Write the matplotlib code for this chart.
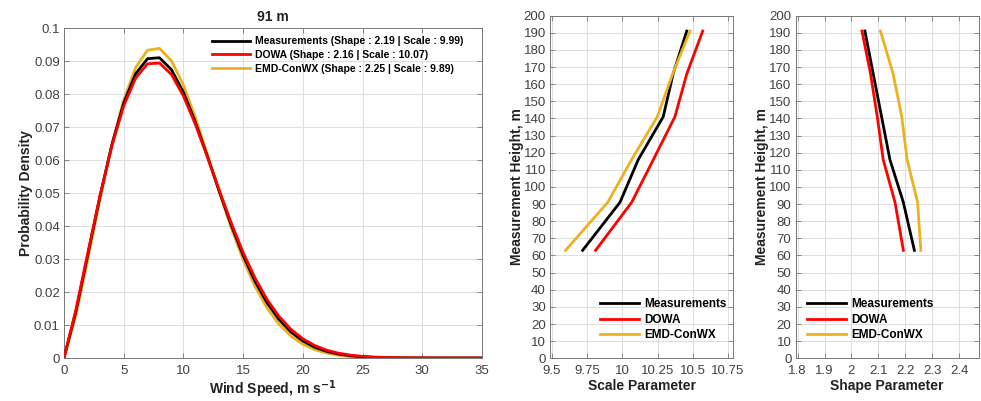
import matplotlib
matplotlib.use("Agg")
import matplotlib.pyplot as plt
import numpy as np

plt.rcParams['font.family'] = ['Liberation Sans', 'DejaVu Sans']

# ---------------- data ----------------
wind_speed = list(range(0, 36))
pdf_meas = [0, 0.01408, 0.03139, 0.04875, 0.06447, 0.07724, 0.08615, 0.09073, 0.09100, 0.08738,
            0.08057, 0.07150, 0.06121, 0.05057, 0.04036, 0.03113, 0.02322, 0.01676, 0.01170, 0.00790,
            0.00517, 0.00327, 0.00200, 0.00119, 0.00068, 0.00038, 0.00020, 0.000105, 0.000052, 0.000025,
            0.000012, 0.000005, 0.000002, 0.000001, 0, 0]
pdf_dowa = [0, 0.01462, 0.03191, 0.04893, 0.06415, 0.07638, 0.08486, 0.08917, 0.08940, 0.08592,
            0.07945, 0.07085, 0.06103, 0.05084, 0.04098, 0.03199, 0.02421, 0.01776, 0.01263, 0.00871,
            0.00582, 0.00378, 0.00238, 0.00145, 0.00086, 0.00049, 0.000275, 0.000149, 0.000078, 0.000040,
            0.000020, 0.000010, 0.000005, 0.000002, 0.000001, 0]
pdf_emd = [0, 0.01290, 0.03002, 0.04784, 0.06441, 0.07818, 0.08803, 0.09329, 0.09383, 0.09006,
           0.08275, 0.07294, 0.06179, 0.05034, 0.03948, 0.02981, 0.02168, 0.01520, 0.01026, 0.00667,
           0.00418, 0.00252, 0.00147, 0.00082, 0.00044, 0.00023, 0.000115, 0.000055, 0.000025, 0.000011,
           0.000005, 0.000002, 0.000001, 0, 0, 0]

heights = [63, 91, 116, 141, 166, 191]
scale_meas = [9.718, 9.983, 10.113, 10.29, 10.36, 10.457]
scale_dowa = [9.81, 10.066, 10.22, 10.373, 10.457, 10.57]
scale_emd = [9.597, 9.896, 10.066, 10.248, 10.357, 10.48]
shape_meas = [2.234, 2.193, 2.143, 2.112, 2.081, 2.050]
shape_dowa = [2.193, 2.162, 2.118, 2.096, 2.071, 2.039]
shape_emd = [2.258, 2.246, 2.207, 2.187, 2.155, 2.108]

labels_pdf = ['Measurements (Shape : 2.19 | Scale : 9.99)',
              'DOWA (Shape : 2.16 | Scale : 10.07)',
              'EMD-ConWX (Shape : 2.25 | Scale : 9.89)']
labels = ['Measurements', 'DOWA', 'EMD-ConWX']
colors = ['#000000', '#ff0000', '#EDB120']

# ---------------- figure ----------------
fig = plt.figure(figsize=(9.81, 4.01), dpi=100)
ax1 = fig.add_axes([0.0652, 0.1072, 0.4261, 0.8228])
ax2 = fig.add_axes([0.5607, 0.1065, 0.1865, 0.8545])
ax3 = fig.add_axes([0.8111, 0.1065, 0.1865, 0.8545])

tick_col = '#404040'
edge_col = '#777777'
lab_col = '#222222'


def style(ax):
    ax.grid(True, color='#dddddd', linewidth=0.7)
    ax.set_axisbelow(True)
    ax.tick_params(direction='in', top=True, right=True, length=3.5, width=0.6,
                   colors=edge_col, labelcolor=tick_col, labelsize=9.5)
    ax.tick_params(axis='x', pad=5)
    ax.tick_params(axis='y', pad=3)
    for s in ax.spines.values():
        s.set_color(edge_col)
        s.set_linewidth(0.7)


lw = 2.0
ax1.plot(wind_speed, pdf_emd, color=colors[2], lw=lw, label=labels_pdf[2], zorder=2)
ax1.plot(wind_speed, pdf_meas, color=colors[0], lw=lw, label=labels_pdf[0], zorder=3)
ax1.plot(wind_speed, pdf_dowa, color=colors[1], lw=lw, label=labels_pdf[1], zorder=4)
ax1.set_xlim(0, 35)
ax1.set_ylim(0, 0.1)
ax1.set_xticks(range(0, 36, 5))
yt = np.round(np.arange(0, 0.1001, 0.01), 2)
ax1.set_yticks(yt)
ax1.set_yticklabels(['0'] + ['%g' % v for v in yt[1:]])
style(ax1)
ax1.set_title('91 m', fontsize=10, fontweight='bold', color=lab_col, pad=5)
ax1.set_xlabel('Wind Speed, m s$^{\\mathbf{-1}}$', fontsize=10, fontweight='bold', color=lab_col, labelpad=1)
ax1.set_ylabel('Probability Density', fontsize=10, fontweight='bold', color=lab_col, labelpad=1)
h, l = ax1.get_legend_handles_labels()
order = [1, 2, 0]
ax1.legend([h[i] for i in order], [l[i] for i in order], loc='upper left',
           bbox_to_anchor=(0.355, 0.975), frameon=False, prop={'size': 7.5, 'weight': 'bold'},
           handlelength=3.6, handletextpad=0.5, labelspacing=0.35, borderpad=0, borderaxespad=0)

for ax, data, xl, xt, xtl in [
        (ax2, [scale_meas, scale_dowa, scale_emd], (9.487, 10.785),
         [9.5, 9.75, 10, 10.25, 10.5, 10.75], ['9.5', '9.75', '10', '10.25', '10.5', '10.75']),
        (ax3, [shape_meas, shape_dowa, shape_emd], (1.7926, 2.473),
         [1.8, 1.9, 2.0, 2.1, 2.2, 2.3, 2.4], ['1.8', '1.9', '2', '2.1', '2.2', '2.3', '2.4'])]:
    for d, c, lab in zip(data, colors, labels):
        ax.plot(d, heights, color=c, lw=lw, label=lab)
    ax.set_xlim(*xl)
    ax.set_ylim(0, 200)
    ax.set_xticks(xt)
    ax.set_xticklabels(xtl)
    ax.set_yticks(range(0, 201, 10))
    style(ax)
    ax.set_ylabel('Measurement Height, m', fontsize=10, fontweight='bold', color=lab_col, labelpad=0)

ax2.set_xlabel('Scale Parameter', fontsize=10, fontweight='bold', color=lab_col, labelpad=1)
ax3.set_xlabel('Shape Parameter', fontsize=10, fontweight='bold', color=lab_col, labelpad=1)

ax2.legend(loc='upper left', bbox_to_anchor=(0.275, 0.175), frameon=False,
           prop={'size': 8.5, 'weight': 'bold'}, handlelength=3.3, handletextpad=0.4,
           labelspacing=0.3, borderpad=0, borderaxespad=0)
ax3.legend(loc='upper left', bbox_to_anchor=(0.063, 0.175), frameon=False,
           prop={'size': 8.5, 'weight': 'bold'}, handlelength=3.3, handletextpad=0.4,
           labelspacing=0.3, borderpad=0, borderaxespad=0)

fig.savefig('out.png', dpi=100)
